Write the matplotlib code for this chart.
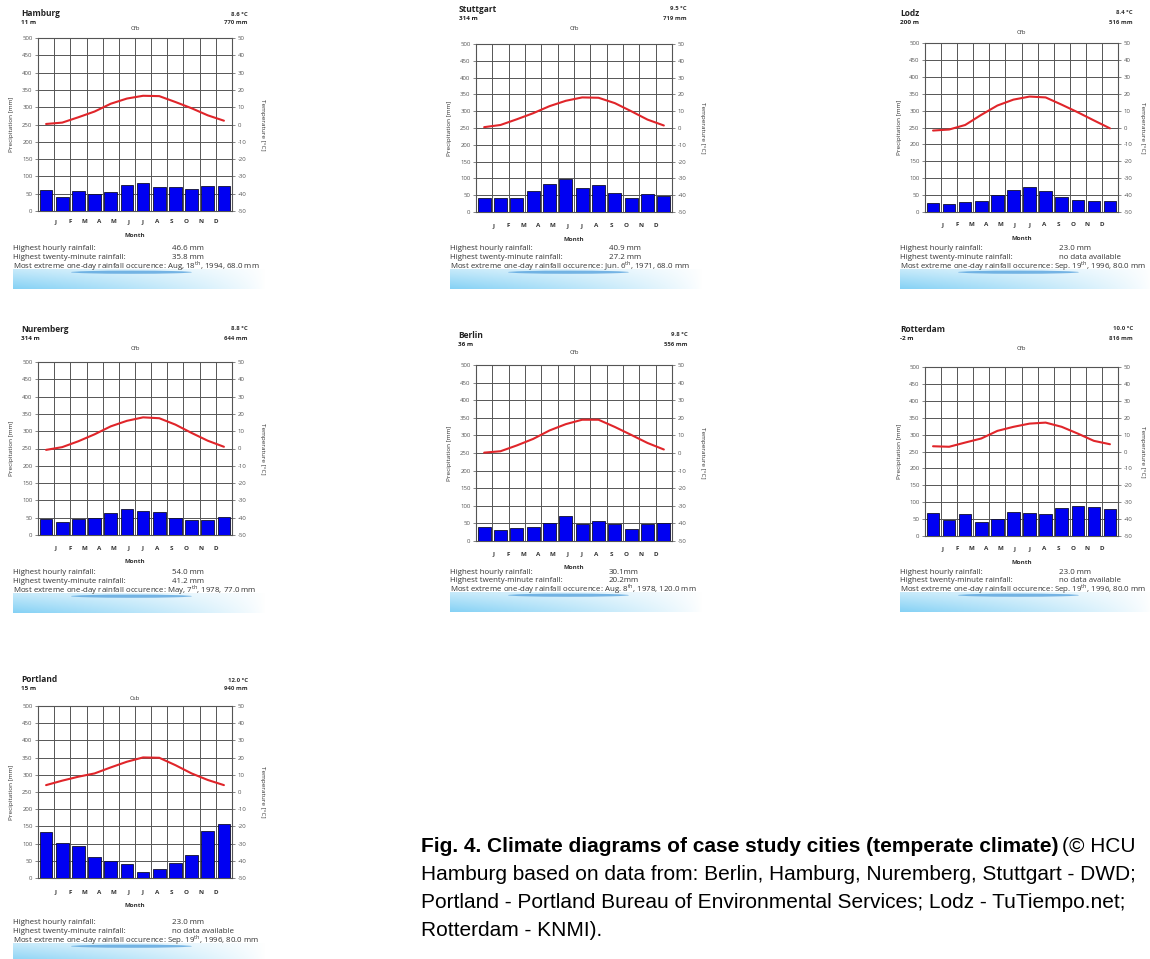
import numpy as np
import matplotlib.pyplot as plt
from matplotlib.patches import Ellipse
from matplotlib.transforms import blended_transform_factory

plt.rcParams['font.family'] = ['Open Sans', 'DejaVu Sans']
plt.rcParams['mathtext.fontset'] = 'custom'
plt.rcParams['mathtext.rm'] = 'Open Sans'
plt.rcParams['axes.unicode_minus'] = False

# --- data ---
months = ["J", "F", "M", "A", "M", "J", "J", "A", "S", "O", "N", "D"]
cities = ["Hamburg", "Stuttgart", "Lodz", "Nuremberg", "Berlin", "Rotterdam", "Portland"]
elevations = ["11 m", "314 m", "200 m", "314 m", "36 m", "-2 m", "15 m"]
mean_temp = ["8.6 °C", "9.5 °C", "8.4 °C", "8.8 °C", "9.8 °C", "10.0 °C", "12.0 °C"]
annual_precip = ["770 mm", "719 mm", "516 mm", "644 mm", "556 mm", "816 mm", "940 mm"]
koppen = ["Cfb", "Cfb", "Cfb", "Cfb", "Cfb", "Cfb", "Csb"]

precip_hamburg = [60, 41, 57, 50, 56, 76, 82, 70, 69, 64, 72, 72]
precip_stuttgart = [43, 41, 43, 62, 83, 97, 70, 80, 56, 43, 55, 48]
precip_lodz = [26, 25, 31, 34, 51, 66, 74, 61, 44, 35, 34, 34]
precip_nuremberg = [45, 38, 45, 48, 63, 74, 70, 66, 50, 44, 44, 52]
precip_berlin = [40, 31, 36, 40, 51, 71, 49, 58, 47, 35, 49, 50]
precip_rotterdam = [68, 46, 66, 41, 51, 72, 68, 66, 82, 90, 86, 80]
precip_portland = [133, 101, 93, 61, 50, 40, 18, 26, 43, 67, 138, 158]

temp_hamburg = [0.3, 1.1, 4.2, 7.5, 12.0, 15.0, 16.6, 16.4, 13.0, 9.4, 5.3, 2.2]
temp_stuttgart = [0.5, 1.8, 5.2, 8.8, 13.0, 16.2, 18.2, 18.0, 14.8, 10.0, 5.0, 1.5]
temp_lodz = [-1.8, -1.2, 1.5, 7.5, 13.0, 16.5, 18.3, 17.8, 13.5, 9.0, 4.2, -0.5]
temp_nuremberg = [-0.8, 0.8, 4.2, 8.2, 12.8, 16.0, 18.0, 17.5, 13.8, 9.0, 4.5, 1.0]
temp_berlin = [0.2, 1.0, 4.3, 8.0, 12.8, 16.4, 18.9, 18.9, 14.8, 10.3, 5.7, 2.0]
temp_rotterdam = [3.1, 2.8, 5.3, 7.7, 12.2, 14.6, 16.5, 17.1, 14.6, 10.6, 6.3, 4.3]
temp_portland = [4.0, 6.6, 8.9, 10.8, 14.3, 17.6, 20.1, 19.9, 15.6, 10.8, 7.0, 4.0]

precip = [precip_hamburg, precip_stuttgart, precip_lodz, precip_nuremberg,
          precip_berlin, precip_rotterdam, precip_portland]
temps = [temp_hamburg, temp_stuttgart, temp_lodz, temp_nuremberg,
         temp_berlin, temp_rotterdam, temp_portland]

hourly = ["46.6 mm", "40.9 mm", "23.0 mm", "54.0 mm", "30.1mm", "23.0 mm", "23.0 mm"]
twenty_min = ["35.8 mm", "27.2 mm", "no data available", "41.2 mm", "20.2mm",
              "no data available", "no data available"]
extreme = ["Aug, 18$^{\\mathrm{th}}$, 1994, 68.0 mm",
           "Jun. 6$^{\\mathrm{th}}$, 1971, 68.0 mm",
           "Sep. 19$^{\\mathrm{th}}$, 1996, 80.0 mm",
           "May, 7$^{\\mathrm{th}}$, 1978, 77.0 mm",
           "Aug. 8$^{\\mathrm{th}}$, 1978, 120.0 mm",
           "Sep. 19$^{\\mathrm{th}}$, 1996, 80.0 mm",
           "Sep. 19$^{\\mathrm{th}}$, 1996, 80.0 mm"]

# panel layout in pixels: plot left, top, right, bottom, name x, name y,
# right text x, climate class y, info x, info y, month letters y
layout = [
    (38, 38, 232, 211, 21, 14, 248, 29, 13, 249, 222),
    (476, 44, 672, 212, 459, 9, 687, 28, 450, 249, 226),
    (925, 43, 1118, 212, 900, 13, 1133, 32, 900, 249, 225),
    (38, 362, 232, 535, 21, 329, 248, 348, 13, 573, 548),
    (476, 365, 672, 541, 458, 335, 688, 353, 450, 572, 554),
    (925, 367, 1118, 536, 900, 329, 1133, 348, 900, 572, 549),
    (38, 706, 232, 878, 21, 680, 248, 698, 13, 923, 892),
]

W, H = 1150, 959
fig = plt.figure(figsize=(W / 100, H / 100), dpi=100)
fig.patch.set_facecolor("white")


def ptext(x, y, s, **kw):
    kw.setdefault("va", "center")
    return fig.text(x / W, 1 - y / H, s, **kw)


# swoosh gradient used under every panel
u = np.linspace(0, 1, 300)[None, :]
v = np.linspace(0, 1, 40)[:, None]
inten = np.clip(1 - u, 0, 1) ** 0.8 * (0.45 + 0.55 * v)
base = np.array([0.52, 0.82, 0.96])
grad = 1 - inten[..., None] * (1 - base)

x = np.arange(12) + 0.5
for i, city in enumerate(cities):
    l, t, r, b, nx, ny, rx, cy, ix, iy, my = layout[i]
    ax = fig.add_axes([l / W, 1 - b / H, (r - l) / W, (b - t) / H])
    ax.bar(x, precip[i], width=0.78, color="#0000f2", edgecolor="#101030", lw=0.6, zorder=3)
    ax.set_xlim(0, 12)
    ax.set_ylim(0, 500)
    ax.set_xticks(np.arange(13))
    ax.set_yticks(np.arange(0, 501, 50))
    ax.tick_params(axis="x", length=0, labelbottom=False)
    ax.tick_params(axis="y", length=2, width=0.5, pad=2, labelsize=4.3, colors="#555555")
    ax.grid(True, color="#555555", lw=0.7)
    ax.set_axisbelow(True)
    for sp in ax.spines.values():
        sp.set_color("#555555")
        sp.set_linewidth(0.8)

    ax2 = ax.twinx()
    ax2.plot(x, temps[i], color="#e0252a", lw=1.5, solid_capstyle="round",
             solid_joinstyle="round", zorder=4)
    ax2.set_ylim(-50, 50)
    ax2.set_yticks(np.arange(-50, 51, 10))
    ax2.tick_params(axis="y", length=2, width=0.5, pad=2, labelsize=4.3, colors="#555555")
    for sp in ax2.spines.values():
        sp.set_visible(False)

    # month letters
    tr = blended_transform_factory(ax.transData, fig.transFigure)
    for k, m in enumerate(months):
        ax.text(1.08 + 0.9 * k, 1 - my / H, m, transform=tr, ha="center", va="center",
                fontsize=4.5, fontweight="bold", color="#333333")
    ptext((l + r) / 2, my + 13.5, "Month", ha="center", fontsize=4.5, fontweight="bold", color="#333333")
    ptext(l - 26, (t + b) / 2, "Precipitation [mm]", rotation=90, ha="center", fontsize=4.6, color="#333333")
    ptext(min(r + 30, 1143), (t + b) / 2, "Temperature [°C]", rotation=270, ha="center",
          fontsize=4.6, color="#333333")

    # header
    ptext(nx, ny, city, fontsize=6, fontweight="bold", color="#222222")
    ptext(nx, ny + 9, elevations[i], fontsize=4.6, fontweight="bold", color="#222222")
    ptext(rx, ny, mean_temp[i], ha="right", fontsize=4.3, fontweight="bold", color="#333333")
    ptext(rx, ny + 9, annual_precip[i], ha="right", fontsize=4.3, fontweight="bold", color="#333333")
    ptext((l + r) / 2, cy, koppen[i], ha="center", fontsize=4.3, color="#333333")

    # swoosh
    axs = fig.add_axes([ix / W, 1 - (iy + 40) / H, 252 / W, 20 / H])
    axs.imshow(grad, extent=[0, 1, 0, 1], aspect="auto", interpolation="bilinear")
    axs.add_patch(Ellipse((0.47, 0.84), 0.48, 0.16, color="#5aa4de", alpha=0.8, lw=0))
    axs.set_xlim(0, 1)
    axs.set_ylim(0, 1)
    axs.axis("off")

    # info lines
    ptext(ix, iy, "Highest hourly rainfall:", fontsize=5.7, color="#333333")
    ptext(ix + 159, iy, hourly[i], fontsize=5.7, color="#333333")
    ptext(ix, iy + 8.5, "Highest twenty-minute rainfall:", fontsize=5.7, color="#333333")
    ptext(ix + 159, iy + 8.5, twenty_min[i], fontsize=5.7, color="#333333")
    ptext(ix, iy + 17, "Most extreme one-day rainfall occurence: " + extreme[i],
          fontsize=5.7, color="#333333")

# caption
cap = dict(fontsize=15, family="Liberation Sans", color="black")
t1 = ptext(421, 847, "Fig. 4. Climate diagrams of case study cities (temperate climate)",
           fontweight="bold", **cap)
fig.canvas.draw()
bb = t1.get_window_extent(fig.canvas.get_renderer())
ptext(bb.x1 + 4, 847, "(© HCU", **cap)
ptext(421, 874, "Hamburg based on data from: Berlin, Hamburg, Nuremberg, Stuttgart - DWD;", **cap)
ptext(421, 902, "Portland - Portland Bureau of Environmental Services; Lodz - TuTiempo.net;", **cap)
ptext(421, 930, "Rotterdam - KNMI).", **cap)

fig.savefig("out.png", dpi=100, facecolor="white")
